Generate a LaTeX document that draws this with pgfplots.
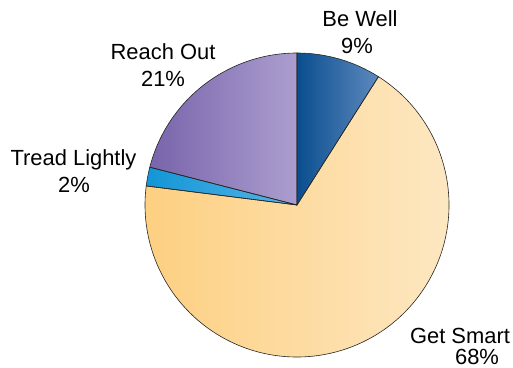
\documentclass[border=0pt]{standalone}
\usepackage{pgfplots}
\pgfplotsset{compat=1.18}
\usepackage{pgfplotstable}
\usepackage{fontspec}
\setmainfont{Liberation Sans}

\pgfplotstableread[col sep=comma]{
label,pct
Be Well,9
Get Smart,68
Tread Lightly,2
Reach Out,21
}\piedata

\definecolor{bwL}{RGB}{10,78,143}
\definecolor{bwR}{RGB}{94,137,190}
\definecolor{gsL}{RGB}{253,207,128}
\definecolor{gsR}{RGB}{253,233,198}
\definecolor{tlL}{RGB}{18,150,214}
\definecolor{tlR}{RGB}{88,180,230}
\definecolor{roL}{RGB}{120,100,171}
\definecolor{roR}{RGB}{172,158,207}

\begin{document}
\begin{tikzpicture}
\useasboundingbox (0,0) rectangle (513bp,368bp);
% cumulative angles from the table (clockwise from 90 degrees)
\pgfplotstablegetelem{0}{pct}\of\piedata \edef\pA{\pgfplotsretval}
\pgfplotstablegetelem{1}{pct}\of\piedata \edef\pB{\pgfplotsretval}
\pgfplotstablegetelem{2}{pct}\of\piedata \edef\pC{\pgfplotsretval}
\pgfplotstablegetelem{3}{pct}\of\piedata \edef\pD{\pgfplotsretval}
\pgfmathsetmacro\aA{90}
\pgfmathsetmacro\aB{\aA-3.6*\pA}
\pgfmathsetmacro\aC{\aB-3.6*\pB}
\pgfmathsetmacro\aD{\aC-3.6*\pC}
\pgfmathsetmacro\aE{\aD-3.6*\pD}
\def\R{152bp}
\begin{axis}[
  scale only axis, width=513bp, height=368bp,
  xmin=0, xmax=513, ymin=0, ymax=368,
  hide axis, clip=false,
]
\shade[left color=bwL, right color=bwR] (axis cs:297,163) -- ++(\aA:\R) arc[start angle=\aA, end angle=\aB, radius=\R] -- cycle;
\shade[left color=gsL, right color=gsR] (axis cs:297,163) -- ++(\aB:\R) arc[start angle=\aB, end angle=\aC, radius=\R] -- cycle;
\shade[left color=tlL, right color=tlR] (axis cs:297,163) -- ++(\aC:\R) arc[start angle=\aC, end angle=\aD, radius=\R] -- cycle;
\shade[left color=roL, right color=roR] (axis cs:297,163) -- ++(\aD:\R) arc[start angle=\aD, end angle=\aE, radius=\R] -- cycle;
\draw[line width=0.6bp, black!85] (axis cs:297,163) -- ++(\aA:\R) arc[start angle=\aA, end angle=\aB, radius=\R] -- cycle;
\draw[line width=0.6bp, black!85] (axis cs:297,163) -- ++(\aB:\R) arc[start angle=\aB, end angle=\aC, radius=\R] -- cycle;
\draw[line width=0.6bp, black!85] (axis cs:297,163) -- ++(\aC:\R) arc[start angle=\aC, end angle=\aD, radius=\R] -- cycle;
\draw[line width=0.6bp, black!85] (axis cs:297,163) -- ++(\aD:\R) arc[start angle=\aD, end angle=\aE, radius=\R] -- cycle;
\tikzset{lab/.style={anchor=base, inner sep=0pt, font=\fontsize{22}{26}\selectfont}}
\node[lab] at (axis cs:360,341.3) {Be Well};
\node[lab] at (axis cs:357,314.7) {\pA\%};
\node[lab] at (axis cs:460,24.7) {Get Smart};
\node[lab] at (axis cs:477,4) {\pB\%};
\node[lab] at (axis cs:73.5,202) {Tread Lightly};
\node[lab] at (axis cs:74,175) {\pC\%};
\node[lab] at (axis cs:163,308) {Reach Out};
\node[lab] at (axis cs:163,281.3) {\pD\%};
\end{axis}
\end{tikzpicture}
\end{document}
